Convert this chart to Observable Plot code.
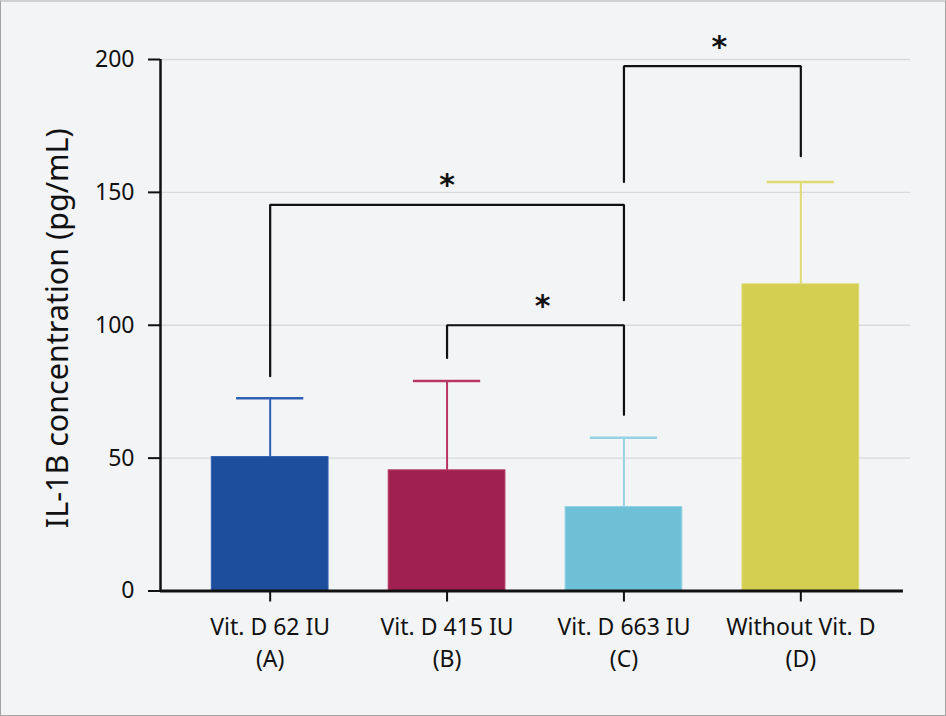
<!DOCTYPE html>
<html><head><meta charset="utf-8">
<script src="https://cdn.jsdelivr.net/npm/d3@7"></script>
<script src="https://cdn.jsdelivr.net/npm/@observablehq/plot@0.6"></script>
<style>
html,body{margin:0;padding:0;background:#f3f4f6;}
#box{width:946px;height:716px;box-sizing:border-box;border-left:1px solid #a3a3a3;border-right:1px solid #a3a3a3;border-bottom:1px solid #a3a3a3;border-top:2px solid #cfd0d2;background:#f3f4f6;overflow:hidden;}
#box svg{display:block;}
</style></head><body><div id="box"></div>
<script>
// categories and values
const groups = ["Vit. D 62 IU\n(A)", "Vit. D 415 IU\n(B)", "Vit. D 663 IU\n(C)", "Without Vit. D\n(D)"];
const means = [50.4, 45.4, 31.6, 115.4];
const errTop = [72.5, 79.0, 57.7, 153.9];
const barColors = ["#1c4e9b", "#a0214f", "#6ec0d6", "#d4cf50"];
const errColors = ["#2f60b3", "#b63862", "#95d2e2", "#dedb72"];
const yTicks = [0, 50, 100, 150, 200];
const gridTicks = [50, 100, 150, 200];

// significance brackets: from group, to group, top value, leg ends
const brFrom = [0, 1, 2];
const brTo = [2, 2, 3];
const brTop = [145.3, 100.0, 197.5];
const brLegFrom = [80.8, 87.7, 153.9];
const brLegTo = [109.4, 66.3, 163.6];
const starX = [1.0, 1.54, 2.54];
const starLabel = ["*", "*", "*"];

const bars = groups.map((g, i) => ({i, g, mean: means[i], top: errTop[i], fill: barColors[i], err: errColors[i]}));
const brLines = brFrom.flatMap((f, k) => [
  {k, x: f, y: brLegFrom[k]},
  {k, x: f, y: brTop[k]},
  {k, x: brTo[k], y: brTop[k]},
  {k, x: brTo[k], y: brLegTo[k]}
]);
const stars = starX.map((x, k) => ({x, y: brTop[k], t: starLabel[k]}));

const xDomain = [-0.62, 3.62];
const xAxisEnd = 3.58;

const chart = Plot.plot({
  width: 944, height: 713,
  marginLeft: 159, marginRight: 35, marginTop: 57, marginBottom: 124.5,
  x: {domain: xDomain, axis: null},
  y: {domain: [0, 200], axis: null},
  style: {background: "transparent", fontFamily: "Noto Sans", color: "#111"},
  marks: [
    Plot.gridY(gridTicks, {stroke: "#d9dadd", strokeOpacity: 1, strokeWidth: 1.3}),
    Plot.rectY(bars, {x1: d => d.i - 0.33, x2: d => d.i + 0.33, y: "mean", fill: "fill", stroke: "err", strokeWidth: 1}),
    Plot.ruleX(bars, {x: "i", y1: "mean", y2: "top", stroke: "err", strokeWidth: 2}),
    Plot.ruleY(bars, {y: "top", x1: d => d.i - 0.19, x2: d => d.i + 0.19, stroke: "err", strokeWidth: 2.5}),
    Plot.line(brLines, {x: "x", y: "y", z: "k", stroke: "#111", strokeWidth: 2.2, strokeLinejoin: "miter", curve: "linear"}),
    Plot.text(stars, {x: "x", y: "y", text: "t", fontFamily: "DejaVu Sans", fontWeight: "bold", fontSize: 30, dy: -19, fill: "#111"}),
    Plot.axisY(yTicks, {tickSize: 12, tickPadding: 14, fontSize: 23, strokeWidth: 2, color: "#111", label: null}),
    Plot.axisX([0, 1, 2, 3], {tickFormat: i => groups[i], tickSize: 11, tickPadding: 10, fontSize: 23, lineHeight: 1.41, strokeWidth: 2, color: "#111", label: null}),
    Plot.ruleX([xDomain[0]], {y1: 0, y2: 200, stroke: "#111", strokeWidth: 2.5}),
    Plot.ruleY([0], {x1: xDomain[0], x2: xAxisEnd, stroke: "#111", strokeWidth: 3}),
    Plot.text(["IL-1B concentration (pg/mL)"], {frameAnchor: "left", textAnchor: "middle", rotate: -90, dx: -102, dy: 3, fontSize: 30.5, fill: "#111"})
  ]
});
document.getElementById("box").appendChild(chart);
</script>
</body></html>
